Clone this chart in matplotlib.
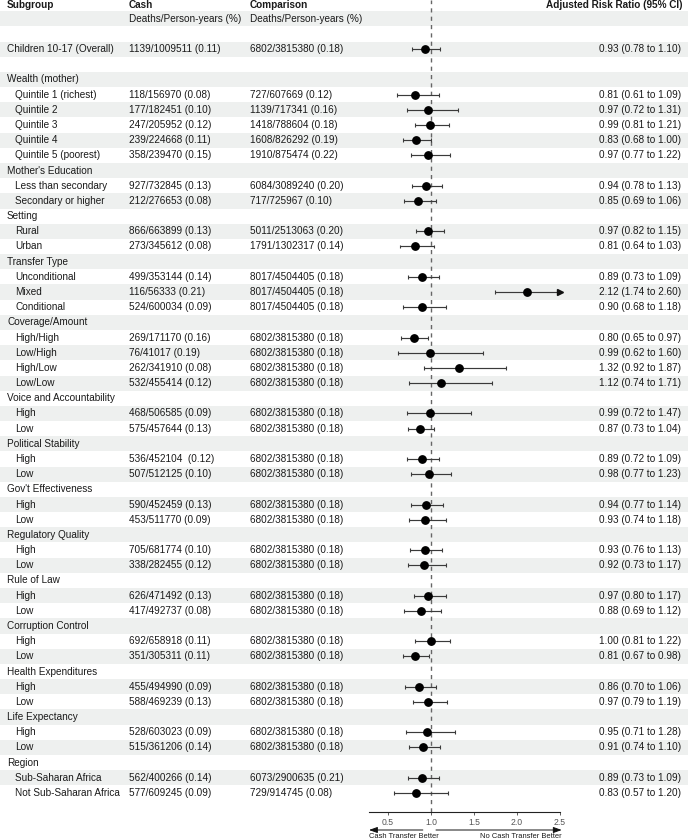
import matplotlib
matplotlib.use("Agg")
import matplotlib.pyplot as plt
from matplotlib.transforms import blended_transform_factory

plt.rcParams['font.family'] = ['Liberation Sans', 'DejaVu Sans']

# ---------------- data ----------------
labels = ["Children 10-17 (Overall)", "",
          "Wealth (mother)", "Quintile 1 (richest)", "Quintile 2", "Quintile 3", "Quintile 4", "Quintile 5 (poorest)",
          "Mother's Education", "Less than secondary", "Secondary or higher",
          "Setting", "Rural", "Urban",
          "Transfer Type", "Unconditional", "Mixed", "Conditional",
          "Coverage/Amount", "High/High", "Low/High", "High/Low", "Low/Low",
          "Voice and Accountability", "High", "Low",
          "Political Stability", "High", "Low",
          "Gov't Effectiveness", "High", "Low",
          "Regulatory Quality", "High", "Low",
          "Rule of Law", "High", "Low",
          "Corruption Control", "High", "Low",
          "Health Expenditures", "High", "Low",
          "Life Expectancy", "High", "Low",
          "Region", "Sub-Saharan Africa", "Not Sub-Saharan Africa"]
levels = [0, 0,
          0, 1, 1, 1, 1, 1,
          0, 1, 1,
          0, 1, 1,
          0, 1, 1, 1,
          0, 1, 1, 1, 1,
          0, 1, 1,
          0, 1, 1,
          0, 1, 1,
          0, 1, 1,
          0, 1, 1,
          0, 1, 1,
          0, 1, 1,
          0, 1, 1,
          0, 1, 1]
cash = ["1139/1009511 (0.11)", "",
        "", "118/156970 (0.08)", "177/182451 (0.10)", "247/205952 (0.12)", "239/224668 (0.11)", "358/239470 (0.15)",
        "", "927/732845 (0.13)", "212/276653 (0.08)",
        "", "866/663899 (0.13)", "273/345612 (0.08)",
        "", "499/353144 (0.14)", "116/56333 (0.21)", "524/600034 (0.09)",
        "", "269/171170 (0.16)", "76/41017 (0.19)", "262/341910 (0.08)", "532/455414 (0.12)",
        "", "468/506585 (0.09)", "575/457644 (0.13)",
        "", "536/452104  (0.12)", "507/512125 (0.10)",
        "", "590/452459 (0.13)", "453/511770 (0.09)",
        "", "705/681774 (0.10)", "338/282455 (0.12)",
        "", "626/471492 (0.13)", "417/492737 (0.08)",
        "", "692/658918 (0.11)", "351/305311 (0.11)",
        "", "455/494990 (0.09)", "588/469239 (0.13)",
        "", "528/603023 (0.09)", "515/361206 (0.14)",
        "", "562/400266 (0.14)", "577/609245 (0.09)"]
C = "6802/3815380 (0.18)"
T = "8017/4504405 (0.18)"
comparison = ["6802/3815380 (0.18)", "",
              "", "727/607669 (0.12)", "1139/717341 (0.16)", "1418/788604 (0.18)", "1608/826292 (0.19)", "1910/875474 (0.22)",
              "", "6084/3089240 (0.20)", "717/725967 (0.10)",
              "", "5011/2513063 (0.20)", "1791/1302317 (0.14)",
              "", T, T, T,
              "", C, C, C, C,
              "", C, C,
              "", C, C,
              "", C, C,
              "", C, C,
              "", C, C,
              "", C, C,
              "", C, C,
              "", C, C,
              "", "6073/2900635 (0.21)", "729/914745 (0.08)"]
N = None
rr = [0.93, N,
      N, 0.81, 0.97, 0.99, 0.83, 0.97,
      N, 0.94, 0.85,
      N, 0.97, 0.81,
      N, 0.89, 2.12, 0.90,
      N, 0.80, 0.99, 1.32, 1.12,
      N, 0.99, 0.87,
      N, 0.89, 0.98,
      N, 0.94, 0.93,
      N, 0.93, 0.92,
      N, 0.97, 0.88,
      N, 1.00, 0.81,
      N, 0.86, 0.97,
      N, 0.95, 0.91,
      N, 0.89, 0.83]
lo = [0.78, N,
      N, 0.61, 0.72, 0.81, 0.68, 0.77,
      N, 0.78, 0.69,
      N, 0.82, 0.64,
      N, 0.73, 1.74, 0.68,
      N, 0.65, 0.62, 0.92, 0.74,
      N, 0.72, 0.73,
      N, 0.72, 0.77,
      N, 0.77, 0.74,
      N, 0.76, 0.73,
      N, 0.80, 0.69,
      N, 0.81, 0.67,
      N, 0.70, 0.79,
      N, 0.71, 0.74,
      N, 0.73, 0.57]
hi = [1.10, N,
      N, 1.09, 1.31, 1.21, 1.00, 1.22,
      N, 1.13, 1.06,
      N, 1.15, 1.03,
      N, 1.09, 2.60, 1.18,
      N, 0.97, 1.60, 1.87, 1.71,
      N, 1.47, 1.04,
      N, 1.09, 1.23,
      N, 1.14, 1.18,
      N, 1.13, 1.17,
      N, 1.17, 1.12,
      N, 1.22, 0.98,
      N, 1.06, 1.19,
      N, 1.28, 1.10,
      N, 1.09, 1.20]

xticks = [0.5, 1.0, 1.5, 2.0, 2.5]
xmin, xmax = 0.279, 2.5

# ---------------- layout ----------------
W, H = 688, 839
fig = plt.figure(figsize=(W / 100, H / 100), dpi=100)

row0_px = 3.6
pitch = 15.18
first_data_row = 3
n_rows = first_data_row + len(labels)

# background / table axes in row units
bg = fig.add_axes([0, 0, 1, 1])
bg.set_xlim(0, W)
bg.set_ylim((H - row0_px) / pitch, -row0_px / pitch)
bg.axis('off')

band = '#eef0ef'
for r in range(n_rows):
    if r % 2 == 1:
        bg.axhspan(r - 0.5, r + 0.5, color=band, lw=0, zorder=0)

txt = '#1a1a1a'
fs = 7.2
x_sub, x_ind, x_cash, x_comp, x_rr = 7, 15, 129, 250, 681

hy = 0.12
bg.text(x_sub, hy, "Subgroup", fontsize=fs, fontweight='bold', va='center', color=txt)
bg.text(x_cash, hy, "Cash", fontsize=fs, fontweight='bold', va='center', color=txt)
bg.text(x_comp, hy, "Comparison", fontsize=fs, fontweight='bold', va='center', color=txt)
bg.text(x_rr + 2, hy, "Adjusted Risk Ratio (95% CI)", fontsize=fs, fontweight='bold',
        va='center', ha='right', color=txt)
bg.text(x_cash, 1, "Deaths/Person-years (%)", fontsize=fs, va='center', color=txt)
bg.text(x_comp, 1, "Deaths/Person-years (%)", fontsize=fs, va='center', color=txt)

for i, lab in enumerate(labels):
    r = first_data_row + i
    if lab:
        bg.text(x_ind if levels[i] else x_sub, r, lab, fontsize=fs, va='center', color=txt)
    if cash[i]:
        bg.text(x_cash, r, cash[i], fontsize=fs, va='center', color=txt)
    if comparison[i]:
        bg.text(x_comp, r, comparison[i], fontsize=fs, va='center', color=txt)
    if rr[i] is not None:
        bg.text(x_rr, r, f"{rr[i]:.2f} ({lo[i]:.2f} to {hi[i]:.2f})", fontsize=fs,
                va='center', ha='right', color=txt)

# forest axes
ax_left_px, ax_right_px, ax_bottom_px = 369, 560, 812
ax = fig.add_axes([ax_left_px / W, (H - ax_bottom_px) / H,
                   (ax_right_px - ax_left_px) / W, ax_bottom_px / H])
ax.patch.set_alpha(0)
ax.set_xlim(xmin, xmax)
ax.set_ylim((ax_bottom_px - row0_px) / pitch, -row0_px / pitch)
for s in ['top', 'left', 'right']:
    ax.spines[s].set_visible(False)
ax.spines['bottom'].set_color('#222222')
ax.spines['bottom'].set_linewidth(0.8)
ax.set_yticks([])
ax.set_xticks(xticks)
ax.set_xticklabels([f"{t:.1f}" for t in xticks])
ax.tick_params(axis='x', length=2.5, width=0.6, color='#444444', labelsize=6.2,
               labelcolor='#555555', pad=2)

ax.axvline(1.0, color='#666666', lw=1.0, ls=(0, (3, 3)), zorder=1)

line_c = '#3a3a3a'
cap = 0.13
for i in range(len(labels)):
    if rr[i] is None:
        continue
    r = first_data_row + i
    right = min(hi[i], xmax)
    ax.hlines(r, lo[i], right, color=line_c, lw=0.85, zorder=2)
    ax.vlines(lo[i], r - cap, r + cap, color=line_c, lw=0.8, zorder=2)
    if hi[i] <= xmax:
        ax.vlines(hi[i], r - cap, r + cap, color=line_c, lw=0.8, zorder=2)
    else:
        ax.plot([xmax], [r], marker='>', ms=4, color='#111111', clip_on=False, zorder=3)
    ax.plot([rr[i]], [r], marker='o', ms=5.3, color='black', zorder=4, clip_on=False)

# direction arrows below the axis
tr = blended_transform_factory(ax.transData, ax.transAxes)
ay = -(830 - ax_bottom_px) / ax_bottom_px
ty = -(836 - ax_bottom_px) / ax_bottom_px
arrowprops = dict(arrowstyle='-|>,head_length=0.5,head_width=0.18', color='#111111', lw=0.7,
                  shrinkA=0, shrinkB=0)
ax.annotate("", xy=(xmin, ay), xytext=(0.905, ay), xycoords=tr, textcoords=tr,
            arrowprops=arrowprops, annotation_clip=False)
ax.annotate("", xy=(2.52, ay), xytext=(1.058, ay), xycoords=tr, textcoords=tr,
            arrowprops=arrowprops, annotation_clip=False)
ax.text(xmin, ty, "Cash Transfer Better", transform=tr, fontsize=5.4, ha='left', va='center',
        color=txt, clip_on=False)
ax.text(2.52, ty, "No Cash Transfer Better", transform=tr, fontsize=5.4, ha='right', va='center',
        color=txt, clip_on=False)

fig.savefig("out.png", dpi=100)
